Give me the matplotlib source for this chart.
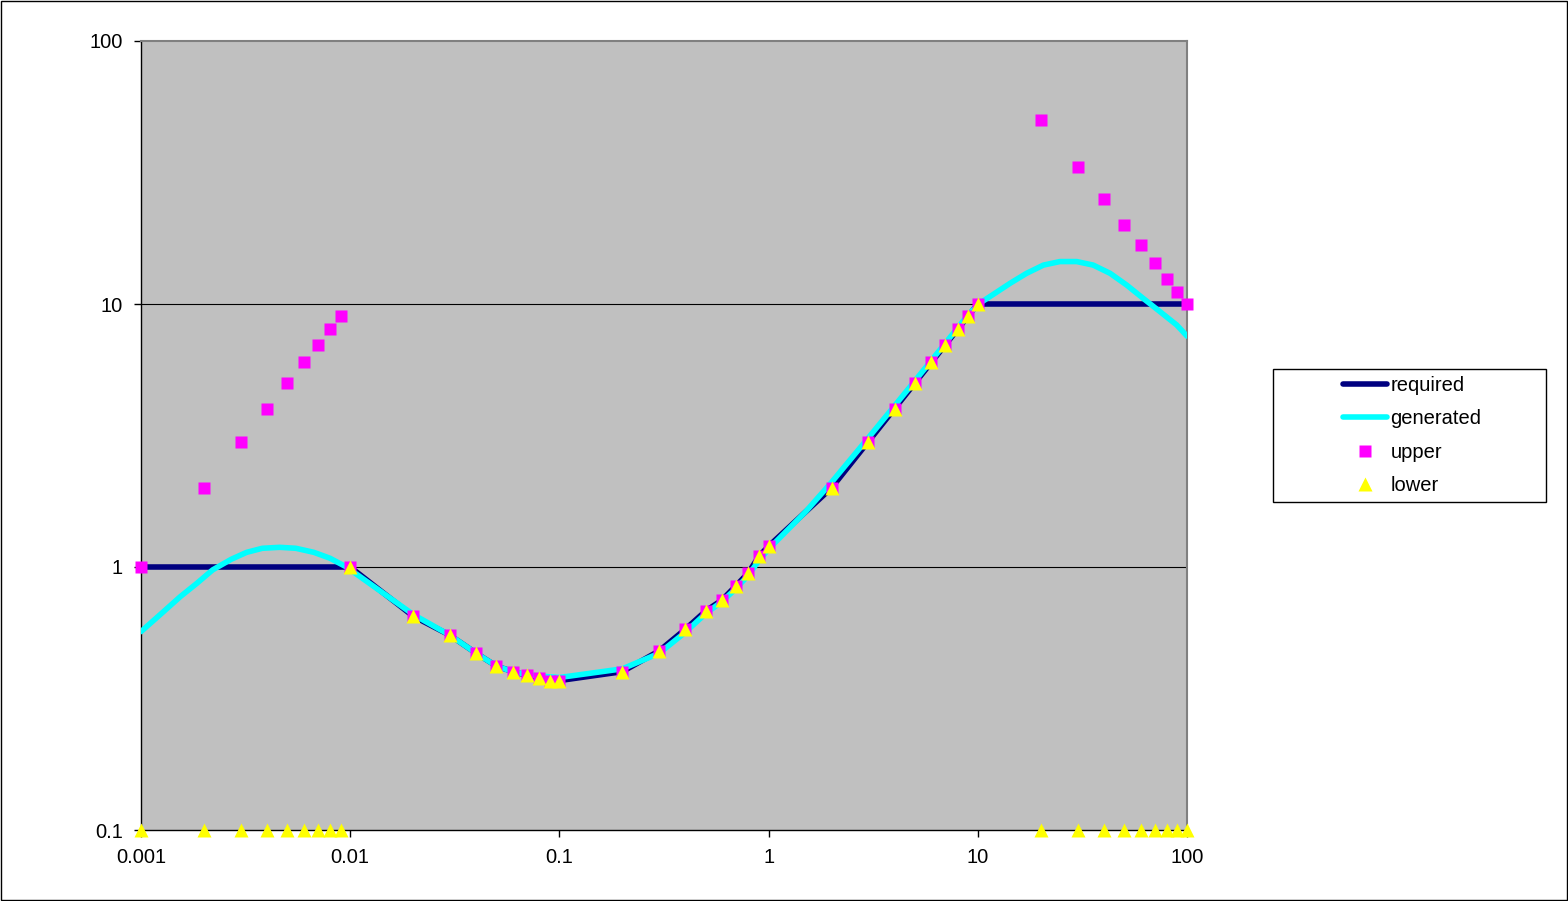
import matplotlib
matplotlib.use('Agg')
import matplotlib.pyplot as plt
from matplotlib.patches import Rectangle
from matplotlib.ticker import FixedLocator, FixedFormatter, NullLocator

# x grid shared by the marker series and the required curve
x_pts = [0.001, 0.002, 0.003, 0.004, 0.005, 0.006, 0.007, 0.008, 0.009,
         0.01, 0.02, 0.03, 0.04, 0.05, 0.06, 0.07, 0.08, 0.09,
         0.1, 0.2, 0.3, 0.4, 0.5, 0.6, 0.7, 0.8, 0.9,
         1, 2, 3, 4, 5, 6, 7, 8, 9,
         10, 20, 30, 40, 50, 60, 70, 80, 90, 100]

required = [1, 1, 1, 1, 1, 1, 1, 1, 1,
            1, 0.65, 0.55, 0.47, 0.42, 0.40, 0.388, 0.38, 0.37,
            0.37, 0.40, 0.48, 0.58, 0.68, 0.75, 0.85, 0.95, 1.1,
            1.2, 2, 3, 4, 5, 6, 7, 8, 9,
            10, 10, 10, 10, 10, 10, 10, 10, 10, 10]

upper = [1, 2, 3, 4, 5, 6, 7, 8, 9,
         1, 0.65, 0.55, 0.47, 0.42, 0.40, 0.388, 0.38, 0.37,
         0.37, 0.40, 0.48, 0.58, 0.68, 0.75, 0.85, 0.95, 1.1,
         1.2, 2, 3, 4, 5, 6, 7, 8, 9,
         10, 50, 33.3, 25, 20, 16.7, 14.3, 12.5, 11.1, 10]

lower = [0.1, 0.1, 0.1, 0.1, 0.1, 0.1, 0.1, 0.1, 0.1,
         1, 0.65, 0.55, 0.47, 0.42, 0.40, 0.388, 0.38, 0.37,
         0.37, 0.40, 0.48, 0.58, 0.68, 0.75, 0.85, 0.95, 1.1,
         1.2, 2, 3, 4, 5, 6, 7, 8, 9,
         10, 0.1, 0.1, 0.1, 0.1, 0.1, 0.1, 0.1, 0.1, 0.1]

# generated curve
gen_x = [0.001, 0.00128, 0.00154, 0.00185, 0.0022, 0.0027, 0.0032, 0.0038,
         0.0046, 0.0055, 0.0067, 0.008, 0.0096,
         0.02, 0.03, 0.04, 0.05, 0.06, 0.07, 0.08, 0.1,
         0.2, 0.3, 0.4, 0.5, 0.6, 0.7, 0.8, 0.9, 1, 1.5,
         2, 3, 4, 5, 6, 7, 8, 9, 10.2, 11.9, 14.3, 17.1,
         20.6, 24.7, 29.7, 35.6, 42.9, 51.5, 61.8, 74.3, 89.3, 100]
gen_y = [0.568, 0.676, 0.771, 0.867, 0.975, 1.07, 1.137, 1.178,
         1.188, 1.178, 1.137, 1.08, 1.0,
         0.66, 0.55, 0.47, 0.42, 0.40, 0.39, 0.385, 0.38,
         0.41, 0.47, 0.565, 0.665, 0.74, 0.83, 0.93, 1.06, 1.17, 1.62,
         2.1, 3.1, 4.1, 5.1, 6.1, 7.1, 8.1, 9.1, 10.06, 10.9, 12.0, 13.08,
         14.06, 14.5, 14.5, 14.06, 13.08, 11.8, 10.5, 9.35, 8.32, 7.55]

x_ticks = [0.001, 0.01, 0.1, 1, 10, 100]
x_labels = ['0.001', '0.01', '0.1', '1', '10', '100']
y_ticks = [0.1, 1, 10, 100]
y_labels = ['0.1', '1', '10', '100']

plt.rcParams['font.family'] = ['Liberation Sans', 'DejaVu Sans']

W, H = 1568, 901
fig = plt.figure(figsize=(W / 100, H / 100), dpi=100)
fig.patch.set_facecolor('white')
ax = fig.add_axes([141 / W, 1 - 830 / H, (1187 - 141) / W, (830 - 41) / H])
ax.set_facecolor('#C0C0C0')
ax.set_xscale('log')
ax.set_yscale('log')
ax.set_xlim(0.001, 100)
ax.set_ylim(0.1, 100)

for yv in [1, 10]:
    ax.axhline(yv, color='black', lw=0.8, zorder=1)

ax.plot(x_pts, required, color='#000080', lw=4, solid_capstyle='round',
        label='required', zorder=3)
ax.plot(gen_x, gen_y, color='#00FFFF', lw=4, solid_capstyle='round',
        label='generated', zorder=4)
ax.plot(x_pts, upper, ls='none', marker='s', ms=9, mfc='#FF00FF', mec='none',
        label='upper', zorder=5, clip_on=False)
ax.plot(x_pts, lower, ls='none', marker='^', ms=10.5, mfc='#FFFF00', mec='none',
        label='lower', zorder=6, clip_on=False)

ax.xaxis.set_major_locator(FixedLocator(x_ticks))
ax.xaxis.set_major_formatter(FixedFormatter(x_labels))
ax.xaxis.set_minor_locator(NullLocator())
ax.yaxis.set_major_locator(FixedLocator(y_ticks))
ax.yaxis.set_major_formatter(FixedFormatter(y_labels))
ax.yaxis.set_minor_locator(NullLocator())
ax.tick_params(direction='out', length=5, width=1, labelsize=14.5, pad=8)

for side in ['left', 'bottom']:
    ax.spines[side].set_color('black')
    ax.spines[side].set_linewidth(1)
for side in ['top', 'right']:
    ax.spines[side].set_color('#808080')
    ax.spines[side].set_linewidth(1.5)

# legend box
fig.patches.append(Rectangle((1273 / W, 1 - 502 / H), (1546 - 1273) / W, (502 - 369) / H,
                             transform=fig.transFigure, fill=False,
                             edgecolor='black', lw=1))
handles, labels = ax.get_legend_handles_labels()
fig.legend(handles, labels, loc='upper left',
           bbox_to_anchor=(1343 / W, 1 - 376 / H), frameon=False,
           fontsize=14.5, handlelength=2.2, handletextpad=0.15,
           labelspacing=0.72, borderpad=0, borderaxespad=0)

# figure border
fig.patches.append(Rectangle((0.0005, 0.0008), 0.999, 0.9985, transform=fig.transFigure,
                             fill=False, edgecolor='black', lw=1))

fig.savefig('out.png', dpi=100)
